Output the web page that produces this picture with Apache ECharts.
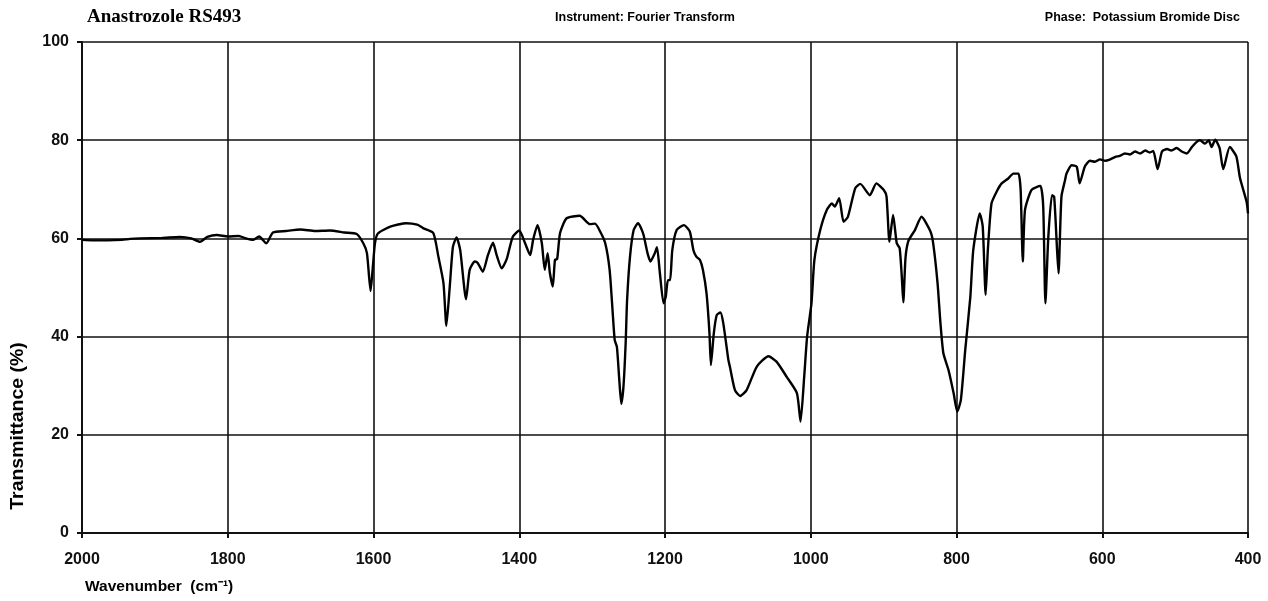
<!DOCTYPE html>
<html>
<head>
<meta charset="utf-8">
<title>Anastrozole RS493 IR spectrum</title>
<script src="https://cdn.jsdelivr.net/npm/echarts@6/dist/echarts.min.js"></script>
<style>
  html, body { margin: 0; padding: 0; background: #fff; }
  #chart { width: 1268px; height: 601px; }
</style>
</head>
<body>
<div id="chart"></div>
<script>
// Wavenumber positions (cm-1), high to low
const wavenumbers = [
  2000,1985,1965,1945,1934,1920,1890,1866,1850,1838,1828,1815,1800,1785,1775,1765,1757,1747,1738,1720,
  1700,1680,1660,1640,1623,1614,1609,1604,1601,1598,1594,1577,1555,1540,1532,1518,1511,1504,1500,1495,
  1491,1486,1481,1473,1468,1461,1457,1450,1443,1436,1431,1424,1417,1409,1400,1392,1385,1381,1375,1369,
  1365,1361,1358,1354,1351,1348,1344,1335,1317,1303,1296,1289,1282,1276,1272,1269,1266,1263,1260,1257,
  1254,1252,1248,1243,1237,1230,1224,1220,1214,1211,1207,1202,1199,1196,1193,1190,1184,1174,1166,1161,
  1157,1152,1148,1143,1139,1137,1133,1129,1124,1120,1113,1111,1104,1097,1088,1074,1058,1047,1033,1019,
  1014,1009,1005,999,995,987,978,971,967,961,955,949,939,932,919,910,900,896,892,887,
  882,878,875,873,870,866,857,848,836,832,826,822,818,811,804,799,794,788,781,777,
  768,764,760,757,752,745,738,729,722,715,712,709,706,697,685,681,678,674,669,666,
  662,660,656,651,649,642,635,631,624,617,610,603,596,589,582,576,569,562,555,548,
  541,535,530,524,518,511,505,498,491,484,477,470,466,459,454,450,445,439,434,425,
  416,411,402,400
];

// Transmittance (%) at each wavenumber above
const transmittance = [
  59.7,59.6,59.6,59.7,59.9,60.0,60.1,60.3,60.0,59.3,60.3,60.7,60.4,60.5,60.0,59.7,60.4,59.0,61.2,61.5,
  61.8,61.5,61.6,61.2,60.9,59.0,57.0,49.3,54.0,59.0,61.0,62.4,63.1,62.8,62.1,61.1,56.3,50.9,42.2,50.9,
  58.3,60.2,57.6,47.6,53.6,55.3,55.0,53.2,56.6,59.1,56.6,53.9,55.9,60.3,61.6,59.0,56.6,59.7,62.7,59.0,
  53.6,57.0,53.0,50.2,55.6,55.8,61.1,64.1,64.6,62.9,63.0,61.4,59.0,53.6,45.4,39.3,37.9,31.8,26.3,29.8,
  38.6,47.5,56.3,61.7,63.1,61.0,57.0,55.3,57.0,58.2,52.9,46.8,48.1,51.5,51.5,57.6,61.7,62.7,61.4,57.6,
  56.3,55.6,53.6,48.8,40.7,34.2,40.7,44.4,44.9,42.7,35.2,33.9,29.1,27.9,29.1,33.9,36.0,34.9,31.8,28.5,
  22.7,31.8,40.0,46.8,55.6,61.7,65.8,67.1,66.5,68.2,63.4,64.4,70.2,71.1,68.8,71.2,69.9,68.5,59.3,64.8,
  59.0,58.0,52.0,47.0,56.0,59.5,61.7,64.4,61.5,59.0,50.9,42.7,36.6,33.2,28.5,24.7,27.1,37.3,48.1,57.6,
  65.1,62.4,48.5,57.6,67.1,69.5,71.2,72.2,73.2,73.2,69.9,55.3,65.8,69.9,70.7,66.5,46.8,60.3,68.8,68.5,
  57.6,52.9,68.5,71.9,73.2,74.9,74.6,71.2,74.6,75.8,75.6,76.1,75.8,76.1,76.6,76.8,77.3,77.1,77.7,77.3,
  77.9,77.5,77.8,74.1,77.7,78.2,77.9,78.4,77.7,77.3,78.6,79.7,80.0,79.3,80.0,78.6,80.1,78.4,74.1,78.6,
  76.7,72.3,67.5,65.1
];

// Axis tick settings
const xTicks = { min: 400, max: 2000, step: 200 };
const yTicks = { min: 0, max: 100, step: 20 };

const headerTexts = {
  sample: 'Anastrozole RS493',
  instrument: 'Instrument: Fourier Transform',
  phase: 'Phase:  Potassium Bromide Disc'
};
const axisNames = {
  x: 'Wavenumber  (cm\u207B\u00B9)',
  y: 'Transmittance (%)'
};

const spectrum = wavenumbers.map((w, i) => [w, transmittance[i]]);

const sans = '"Liberation Sans", Arial, sans-serif';
const ink = '#111';

const chart = echarts.init(document.getElementById('chart'), null, { renderer: 'canvas' });

chart.setOption({
  backgroundColor: '#ffffff',
  animation: false,
  grid: { left: 82, right: 20, top: 42, bottom: 68 },
  xAxis: {
    type: 'value',
    inverse: true,
    min: xTicks.min,
    max: xTicks.max,
    interval: xTicks.step,
    axisLine: { show: true, lineStyle: { color: ink, width: 2 } },
    axisTick: { show: true, length: 5, lineStyle: { color: ink, width: 2 } },
    axisLabel: {
      color: ink, fontFamily: sans, fontWeight: 'bold', fontSize: 16, margin: 19,
      formatter: (v) => String(v)
    },
    splitLine: { show: true, lineStyle: { color: ink, width: 1.6 } }
  },
  yAxis: {
    type: 'value',
    min: yTicks.min,
    max: yTicks.max,
    interval: yTicks.step,
    axisLine: { show: true, lineStyle: { color: ink, width: 2 } },
    axisTick: { show: true, length: 5, lineStyle: { color: ink, width: 2 } },
    axisLabel: {
      color: ink, fontFamily: sans, fontWeight: 'bold', fontSize: 16, margin: 13,
      formatter: (v) => String(v)
    },
    splitLine: { show: true, lineStyle: { color: ink, width: 1.6 } }
  },
  series: [{
    type: 'line',
    data: spectrum,
    showSymbol: false,
    smooth: 0.2,
    lineStyle: { color: '#000', width: 2.4 },
    z: 5
  }],
  graphic: [
    {
      type: 'text', x: 87, y: 17,
      style: {
        text: headerTexts.sample,
        font: 'bold 19px "Liberation Serif", "Times New Roman", serif',
        fill: '#000', align: 'left', verticalAlign: 'middle'
      }
    },
    {
      type: 'text', x: 645, y: 18,
      style: {
        text: headerTexts.instrument,
        font: 'bold 12.5px ' + sans,
        fill: '#000', align: 'center', verticalAlign: 'middle'
      }
    },
    {
      type: 'text', x: 1240, y: 18,
      style: {
        text: headerTexts.phase,
        font: 'bold 12.5px ' + sans,
        fill: '#000', align: 'right', verticalAlign: 'middle'
      }
    },
    {
      type: 'text', x: 85, y: 587,
      style: {
        text: axisNames.x,
        font: 'bold 15.5px ' + sans,
        fill: '#000', align: 'left', verticalAlign: 'middle'
      }
    },
    {
      type: 'text', x: 18, y: 426, rotation: Math.PI / 2, scaleX: 1.08,
      style: {
        text: axisNames.y,
        font: 'bold 18px ' + sans,
        fill: '#000', align: 'center', verticalAlign: 'middle'
      }
    }
  ]
});
</script>
</body>
</html>
